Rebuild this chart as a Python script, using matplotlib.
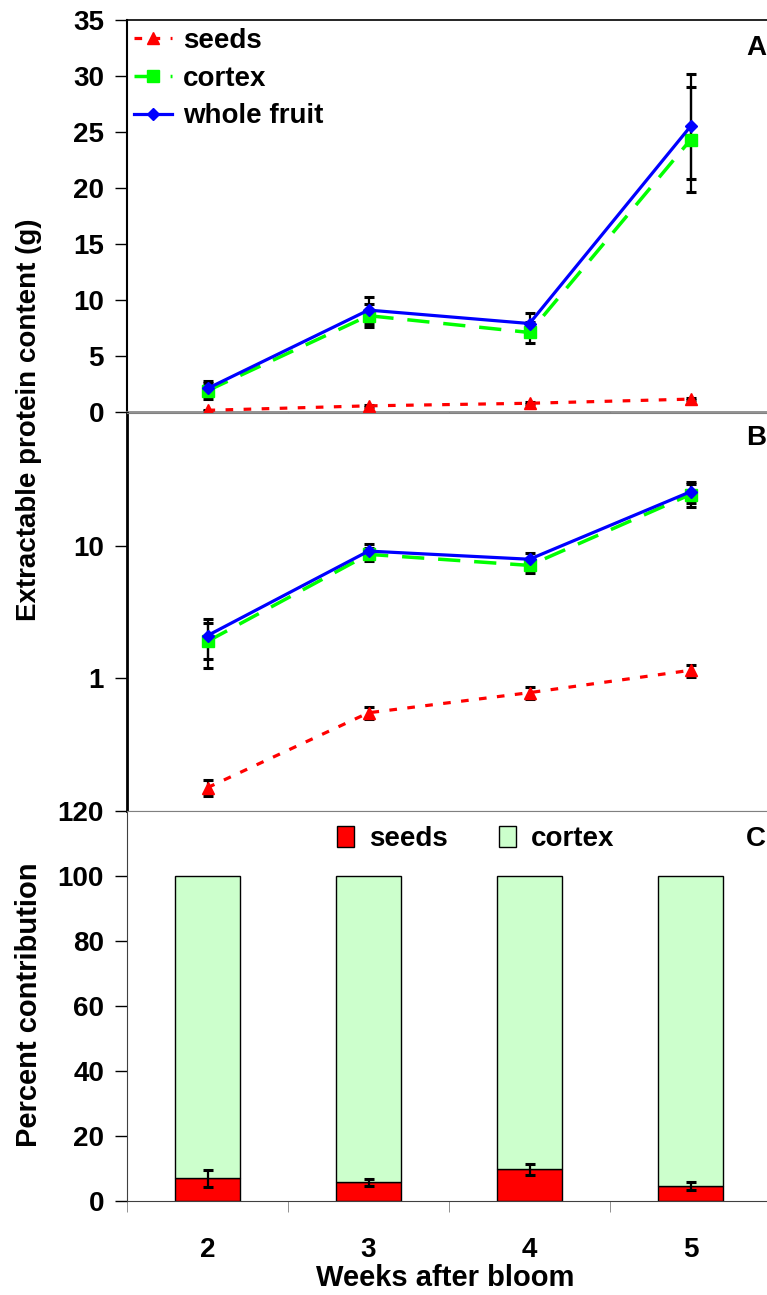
import numpy as np
import matplotlib
matplotlib.use("Agg")
import matplotlib.pyplot as plt
from matplotlib.patches import Patch
from matplotlib.legend_handler import HandlerLine2D

plt.rcParams["font.family"] = ["Liberation Sans", "DejaVu Sans"]
plt.rcParams["font.weight"] = "bold"
plt.rcParams["lines.scale_dashes"] = False

# data
weeks = [2, 3, 4, 5]
seeds = [0.15, 0.55, 0.78, 1.15]
seeds_err = [0.02, 0.06, 0.08, 0.12]
cortex = [1.9, 8.6, 7.1, 24.3]
cortex_err = [0.7, 1.0, 0.9, 4.7]
whole = [2.1, 9.1, 7.9, 25.5]
whole_err = [0.7, 1.2, 0.9, 4.7]
seed_pct = [7.0, 5.8, 9.8, 4.6]
seed_pct_err = [2.6, 1.1, 1.7, 1.2]
cortex_pct = [100 - v for v in seed_pct]

W, H = 767, 1295
FS = 20
fig = plt.figure(figsize=(W / 100, H / 100), dpi=100)


class EndMarker(HandlerLine2D):
    """Legend line with the marker at one end (Excel style)."""

    def __init__(self, side="right", **kw):
        super().__init__(**kw)
        self.side = side

    def get_xdata(self, legend, xdescent, ydescent, width, height, fontsize):
        xdata = np.array([-xdescent, -xdescent + width])
        xm = xdata[1:] if self.side == "right" else xdata[:1]
        return xdata, xm


def box(top, bottom):
    return [127 / W, (H - bottom) / H, 644 / W, (bottom - top) / H]


axA = fig.add_axes(box(20, 412))
axB = fig.add_axes(box(413, 811))
axC = fig.add_axes(box(811, 1201))

GRAY = "#808080"


def draw_lines(ax):
    for vals, errs in [(seeds, seeds_err), (cortex, cortex_err), (whole, whole_err)]:
        ax.errorbar(weeks, vals, yerr=errs, fmt="none", ecolor="black",
                    elinewidth=1.6, capsize=3.5, capthick=2.2, zorder=2)
    l1, = ax.plot(weeks, seeds, color="#ff0000", lw=2.3, dashes=(5.5, 7.5),
                  marker="^", ms=8, mec="#ff0000", zorder=3, label="seeds")
    l2, = ax.plot(weeks, cortex, color="#00ff00", lw=2.5, dashes=(16, 10),
                  marker="s", ms=8, mec="#00ff00", zorder=3, label="cortex")
    l3, = ax.plot(weeks, whole, color="#0000ff", lw=2.3, marker="D", ms=6.5,
                  mec="#0000ff", zorder=4, label="whole fruit")
    return l1, l2, l3


for ax in (axA, axB, axC):
    ax.set_xlim(1.5, 5.5)
    ax.tick_params(axis="y", direction="out", length=8.5, width=1, pad=8,
                   labelsize=FS)
    ax.spines["right"].set_visible(False)
    for lab in ax.get_yticklabels():
        lab.set_fontweight("bold")

# panel A
lines = draw_lines(axA)
axA.set_ylim(0, 35)
axA.set_yticks(np.arange(0, 36, 5))
axA.set_xticks([2.5, 3.5, 4.5])
axA.set_xticklabels([])
axA.tick_params(axis="x", direction="out", length=8, color=GRAY)
axA.spines["bottom"].set_color(GRAY)
axA.spines["bottom"].set_linewidth(1.2)
axA.spines["left"].set_linewidth(1.5)
axA.spines["top"].set_linewidth(1.2)
axA.legend(handles=lines, loc="upper left",
           bbox_to_anchor=(134 / W, 1 - 28 / H),
           bbox_transform=fig.transFigure, frameon=False,
           handlelength=1.35, handletextpad=0.4, labelspacing=0.42,
           borderpad=0, borderaxespad=0,
           handler_map={lines[0]: EndMarker("right"),
                        lines[1]: EndMarker("right"),
                        lines[2]: EndMarker("left")},
           prop={"weight": "bold", "size": FS})

# panel B
draw_lines(axB)
axB.set_yscale("log")
axB.set_ylim(0.1, 100)
axB.set_yticks([1, 10])
axB.set_yticklabels(["1", "10"], fontweight="bold")
axB.minorticks_off()
axB.set_xticks([])
axB.spines["top"].set_color(GRAY)
axB.spines["bottom"].set_color(GRAY)
axB.spines["left"].set_linewidth(2)

# panel C
axC.bar(weeks, seed_pct, width=0.4, color="#ff0000", edgecolor="black",
        lw=1, label="seeds", zorder=2)
axC.bar(weeks, cortex_pct, width=0.4, bottom=seed_pct, color="#ccffcc",
        edgecolor="black", lw=1, label="cortex", zorder=2)
axC.errorbar(weeks, seed_pct, yerr=seed_pct_err, fmt="none", ecolor="black",
             elinewidth=1.6, capsize=3.5, capthick=2.2, zorder=3)
axC.set_ylim(0, 120)
axC.set_yticks(np.arange(0, 121, 20))
axC.set_xticks(weeks)
axC.set_xticklabels([str(w) for w in weeks], fontweight="bold")
axC.set_xticks([1.5, 2.5, 3.5, 4.5], minor=True)
axC.tick_params(axis="x", which="major", length=0, pad=26, labelsize=FS)
axC.tick_params(axis="x", which="minor", length=8, color=GRAY)
axC.spines["top"].set_color(GRAY)
axC.spines["left"].set_color("#404040")
axC.spines["bottom"].set_color("#404040")
axC.legend(handles=[Patch(facecolor="#ff0000", edgecolor="black", label="seeds"),
                    Patch(facecolor="#ccffcc", edgecolor="black", label="cortex")],
           loc="upper left", bbox_to_anchor=(337 / W, 1 - 826 / H),
           bbox_transform=fig.transFigure, frameon=False, ncol=2,
           handlelength=0.6, handleheight=0.8, handletextpad=0.55,
           columnspacing=1.85, borderpad=0, borderaxespad=0,
           prop={"weight": "bold", "size": FS})

# panel letters and axis titles
for letter, yc in [("A", 48), ("B", 438), ("C", 839)]:
    fig.text(766 / W, 1 - yc / H, letter, ha="right", va="center",
             fontsize=FS, fontweight="bold")
fig.text(29 / W, 1 - 420 / H, "Extractable protein content (g)", rotation=90,
         ha="center", va="center", fontsize=FS, fontweight="bold")
fig.text(29 / W, 1 - 1005 / H, "Percent contribution", rotation=90,
         ha="center", va="center", fontsize=FS + 1, fontweight="bold")
fig.text(445 / W, 1 - 1278 / H, "Weeks after bloom", ha="center",
         va="center", fontsize=FS + 1, fontweight="bold")

fig.savefig("out.png", dpi=100)
